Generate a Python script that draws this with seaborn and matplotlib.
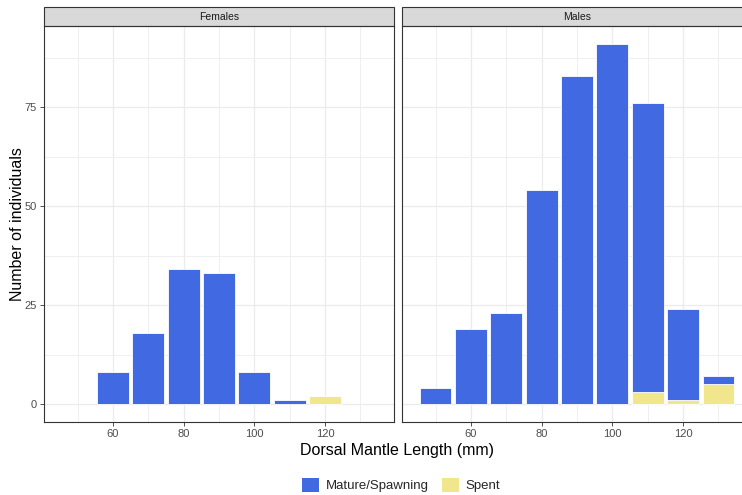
import pandas as pd
import numpy as np
import matplotlib
matplotlib.use('Agg')
import matplotlib.pyplot as plt
import seaborn as sns
from matplotlib.patches import Patch, Rectangle

# bin centres (mm) and counts
bins = [50, 60, 70, 80, 90, 100, 110, 120, 130]
females_mature = [0, 8, 18, 34, 33, 8, 1, 0, 0]
females_spent = [0, 0, 0, 0, 0, 0, 0, 2, 0]
males_mature = [4, 19, 23, 54, 83, 91, 73, 23, 2]
males_spent = [0, 0, 0, 0, 0, 0, 3, 1, 5]
stages = ['Mature/Spawning', 'Spent']
palette = {'Mature/Spawning': '#4169E1', 'Spent': '#F0E68C'}

rows = []
for sex, mat, spe in [('Females', females_mature, females_spent),
                      ('Males', males_mature, males_spent)]:
    for b, m, s in zip(bins, mat, spe):
        if m > 0:
            rows.append((sex, b, 'Mature/Spawning', m))
        if s > 0:
            rows.append((sex, b, 'Spent', s))
df = pd.DataFrame(rows, columns=['sex', 'dml', 'stage', 'n'])

sns.set_theme(style='white')
plt.rcParams['font.family'] = ['Liberation Sans', 'DejaVu Sans']

fig = plt.figure(figsize=(7.42, 4.95), dpi=100)
W, H = 742, 495
ax1 = fig.add_axes([44 / W, 1 - 422 / H, 350 / W, 396 / H])
ax2 = fig.add_axes([402 / W, 1 - 422 / H, 350 / W, 396 / H], sharey=ax1)

for ax, sex in [(ax1, 'Females'), (ax2, 'Males')]:
    sns.histplot(data=df[df['sex'] == sex], x='dml', weights='n', hue='stage',
                 hue_order=stages, palette=palette, multiple='stack',
                 binwidth=10, binrange=(45, 135), shrink=0.9, alpha=1,
                 edgecolor='white', linewidth=0.6, legend=False, ax=ax)
    # empty bins leave flat zero-height bars; drop them
    for p in list(ax.patches):
        if p.get_height() == 0:
            p.remove()
    ax.set_xlim(40.5, 139.5)
    ax.set_ylim(-4.55, 95.55)
    ax.set_xticks([60, 80, 100, 120])
    ax.set_xticks([50, 70, 90, 110, 130], minor=True)
    ax.set_yticks([0, 25, 50, 75])
    ax.set_yticks([12.5, 37.5, 62.5, 87.5], minor=True)
    ax.grid(which='major', color='#EBEBEB', linewidth=0.9)
    ax.grid(which='minor', color='#EFEFEF', linewidth=0.7)
    ax.set_axisbelow(True)
    for sp in ax.spines.values():
        sp.set_color('#333333')
        sp.set_linewidth(0.8)
    ax.tick_params(which='major', length=3, width=0.6, color='#333333',
                   labelsize=8, labelcolor='#4D4D4D', pad=2,
                   bottom=True, left=True)
    ax.tick_params(which='minor', length=0)
    ax.set_xlabel('')
    ax.set_ylabel('')
    # facet strip
    strip_h = 19 / 396
    ax.add_patch(Rectangle((0, 1), 1, strip_h, transform=ax.transAxes,
                           facecolor='#D9D9D9', edgecolor='#333333',
                           linewidth=0.8, clip_on=False))
    ax.text(0.5, 1 + strip_h / 2, sex, transform=ax.transAxes, ha='center',
            va='center', fontsize=7.5, color='#1A1A1A')

ax2.tick_params(axis='y', which='both', left=False, labelleft=False)

fig.text(18 / W, 1 - 224 / H, 'Number of individuals', rotation=90,
         ha='center', va='center', fontsize=11.5, color='black')
fig.text(397 / W, 1 - 450 / H, 'Dorsal Mantle Length (mm)', ha='center',
         va='center', fontsize=11.5, color='black')

handles = [Patch(facecolor=palette[s], edgecolor='none', label=s) for s in stages]
fig.legend(handles=handles, loc='center', bbox_to_anchor=(401 / W, 1 - 485 / H),
           ncol=2, frameon=False, fontsize=9.5, handlelength=1.3,
           handleheight=1.3, handletextpad=0.5, columnspacing=1.0)

fig.savefig('out.png', dpi=100)
